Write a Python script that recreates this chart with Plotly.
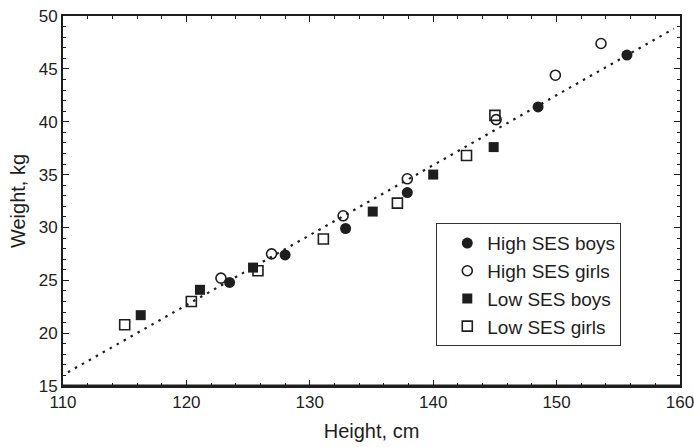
import plotly.graph_objects as go

# Data
hi_boys_h = [123.5, 128.0, 132.9, 137.9, 148.5, 155.7]
hi_boys_w = [24.8, 27.4, 29.9, 33.3, 41.4, 46.3]

hi_girls_h = [122.8, 126.9, 132.7, 137.9, 145.1, 149.9, 153.6]
hi_girls_w = [25.2, 27.5, 31.1, 34.6, 40.2, 44.4, 47.4]

lo_boys_h = [116.3, 121.1, 125.4, 135.1, 140.0, 144.9]
lo_boys_w = [21.7, 24.1, 26.2, 31.5, 35.0, 37.6]

lo_girls_h = [115.0, 120.4, 125.8, 131.1, 137.1, 142.7, 145.0]
lo_girls_w = [20.8, 23.0, 25.9, 28.9, 32.3, 36.8, 40.6]

trend_h = [110.4, 159.5]
trend_w = [16.3, 48.8]

x_ticks = [110, 120, 130, 140, 150, 160]
y_ticks = [15, 20, 25, 30, 35, 40, 45, 50]

INK = "#1e1e1e"
FONT = "Liberation Sans, Arial, Helvetica, sans-serif"

fig = go.Figure()

fig.add_trace(go.Scatter(
    x=trend_h, y=trend_w, mode="lines", showlegend=False,
    line=dict(color=INK, width=2.2, dash="2.5px,5.5px"), hoverinfo="skip"))

fig.add_trace(go.Scatter(
    x=hi_boys_h, y=hi_boys_w, mode="markers", name="High SES boys",
    marker=dict(symbol="circle", size=11, color=INK, line=dict(color=INK, width=0))))
fig.add_trace(go.Scatter(
    x=hi_girls_h, y=hi_girls_w, mode="markers", name="High SES girls",
    marker=dict(symbol="circle-open", size=10, color=INK, line=dict(color=INK, width=1.6))))
fig.add_trace(go.Scatter(
    x=lo_boys_h, y=lo_boys_w, mode="markers", name="Low SES boys",
    marker=dict(symbol="square", size=10, color=INK, line=dict(color=INK, width=0))))
fig.add_trace(go.Scatter(
    x=lo_girls_h, y=lo_girls_w, mode="markers", name="Low SES girls",
    marker=dict(symbol="square-open", size=10, color=INK, line=dict(color=INK, width=1.6))))

axis_common = dict(
    showgrid=False, zeroline=False, showline=True, linecolor=INK, linewidth=2,
    mirror="allticks", ticks="inside", ticklen=6, tickwidth=1.2, tickcolor=INK,
    tickfont=dict(family=FONT, size=17, color=INK), ticklabeloverflow="allow",
    automargin=False,
)

fig.update_xaxes(
    range=[110, 160], tickvals=x_ticks, ticktext=[str(v) for v in x_ticks],
    minor=dict(dtick=2, ticks="inside", ticklen=3, tickcolor=INK, tickwidth=1),
    title=dict(text="Height, cm", font=dict(family=FONT, size=20, color=INK), standoff=13),
    **axis_common)
fig.update_yaxes(
    range=[15, 50], tickvals=y_ticks, ticktext=[str(v) for v in y_ticks],
    minor=dict(dtick=1, ticks="inside", ticklen=3, tickcolor=INK, tickwidth=1),
    title=dict(text="Weight, kg", font=dict(family=FONT, size=20, color=INK), standoff=8),
    **axis_common)

fig.add_shape(type="line", xref="paper", yref="paper", x0=0, x1=1, y0=0, y1=0,
              line=dict(color=INK, width=3.2))

fig.update_layout(
    width=694, height=447,
    margin=dict(l=63, r=14, t=16, b=61),
    plot_bgcolor="white", paper_bgcolor="white",
    font=dict(family=FONT, color=INK),
    legend=dict(
        x=0.605, y=0.44, xanchor="left", yanchor="top",
        bgcolor="white", bordercolor="#333333", borderwidth=1,
        font=dict(family=FONT, size=19, color=INK),
        indentation=10, tracegroupgap=0, itemwidth=30,
    ),
)

fig.write_html("out.html")
